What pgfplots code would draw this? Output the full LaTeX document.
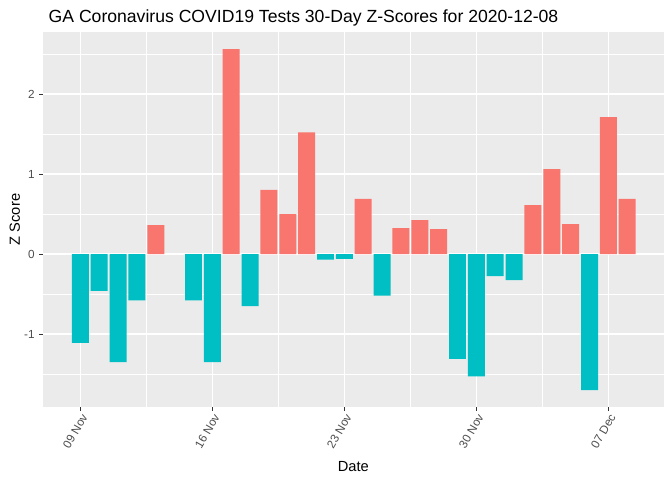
\documentclass[border=0pt]{standalone}
\usepackage{pgfplots}
\pgfplotsset{compat=1.18}
\usepackage{fontspec}
\setmainfont{Liberation Sans}
\definecolor{posred}{HTML}{F8766D}
\definecolor{negteal}{HTML}{00BFC4}
\definecolor{panelbg}{HTML}{EBEBEB}
\definecolor{grey30}{HTML}{4D4D4D}
\definecolor{grey20}{HTML}{333333}
\begin{document}
\begin{tikzpicture}
% page = 672 x 480 px, 1 px = 0.75 pt
\path[use as bounding box] (0pt,0pt) rectangle (504pt,360pt);
\begin{axis}[
  at={(32.25pt,54.75pt)}, anchor=south west,
  scale only axis,
  width=465.75pt, height=281.25pt,
  xmin=-1.98, xmax=30.95,
  ymin=-1.9125, ymax=2.775,
  ybar, bar width=0.9, bar shift=0pt,
  axis background/.style={fill=panelbg},
  axis line style={draw=none},
  tick align=outside,
  xtick pos=bottom, ytick pos=left,
  major tick length=2.75pt,
  minor tick length=0pt,
  tick style={grey20, line width=0.53pt},
  grid=both,
  major grid style={white, line width=1.07pt},
  minor grid style={white, line width=0.53pt},
  xtick={0,7,14,21,28},
  xticklabels={09 Nov,16 Nov,23 Nov,30 Nov,07 Dec},
  minor xtick={3.5,10.5,17.5,24.5},
  ytick={-1,0,1,2},
  yticklabels={-1,0,1,2},
  minor ytick={-1.5,-0.5,0.5,1.5,2.5},
  ticklabel style={font=\fontsize{8.8}{10}\selectfont, text=grey30},
  xticklabel style={rotate=60, anchor=north east, inner sep=1pt},
]
% positive z-scores
\addplot[fill=posred, draw=none] coordinates {
  (4,0.36) (8,2.56) (10,0.80) (11,0.50) (12,1.52) (15,0.69)
  (17,0.325) (18,0.425) (19,0.31) (24,0.61) (25,1.06) (26,0.375)
  (28,1.71) (29,0.69)
};
% negative z-scores
\addplot[fill=negteal, draw=none] coordinates {
  (0,-1.11) (1,-0.46) (2,-1.35) (3,-0.58) (6,-0.58) (7,-1.35)
  (9,-0.65) (13,-0.07) (14,-0.06) (16,-0.52) (20,-1.31) (21,-1.53)
  (22,-0.275) (23,-0.325) (27,-1.70)
};
\end{axis}
\node[anchor=base west, font=\fontsize{13.2}{15}\selectfont] at (33pt,343pt)
  {GA Coronavirus COVID19 Tests 30-Day Z-Scores for 2020-12-08};
\node[anchor=base, rotate=90, font=\fontsize{11}{13}\selectfont] at (15pt,195.4pt) {Z Score};
\node[anchor=base, font=\fontsize{11}{13}\selectfont] at (265pt,6.75pt) {Date};
\end{tikzpicture}
\end{document}
